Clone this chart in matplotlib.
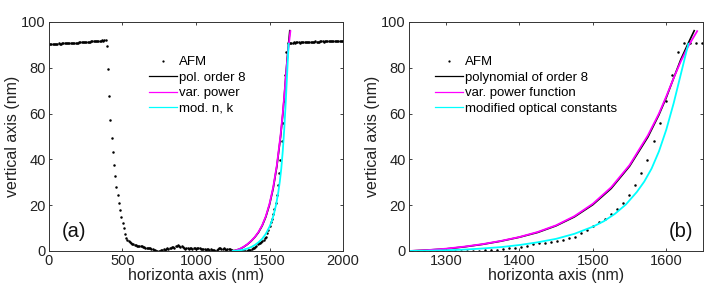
import numpy as np
import matplotlib
matplotlib.use("Agg")
import matplotlib.pyplot as plt

plt.rcParams['font.family'] = ['Liberation Sans', 'DejaVu Sans']
plt.rcParams['font.size'] = 10

# AFM profile, sampled every 8.2 nm from 0 nm
afm_step = 8.2
afm_h = [
    90.4, 90.3, 90.5, 90.4, 90.6, 90.5, 90.5, 90.6, 90.7, 90.6,
    90.6, 90.7, 90.7, 90.8, 90.7, 90.8, 90.8, 90.9, 90.8, 90.9,
    90.9, 91.0, 90.9, 91.0, 91.0, 91.1, 91.1, 91.1, 91.2, 91.2,
    91.3, 91.2, 91.3, 91.4, 91.4, 91.5, 91.5, 91.6, 91.6, 91.7,
    91.7, 91.8, 91.8, 91.9, 92.0, 91.9, 92.1, 92.2, 89.4, 79.4,
    67.8, 57.4, 49.4, 43.1, 37.5, 32.7, 28.0, 24.3, 20.8, 17.8,
    14.9, 12.4, 9.9, 7.5, 5.8, 5.0, 4.4, 3.9, 3.5, 3.2,
    2.9, 2.7, 2.5, 2.4, 2.3, 2.2, 2.1, 2.0, 1.8, 1.6,
    1.5, 1.4, 1.3, 1.2, 1.1, 1.0, 0.8, 0.6, 0.4, 0.2,
    0.0, -0.2, 0.0, 0.3, 0.6, 0.7, 0.5, 0.9, 1.2, 1.0,
    1.3, 1.1, 1.6, 1.9, 1.5, 2.0, 2.3, 2.5, 2.1, 1.8,
    2.2, 1.6, 1.3, 1.0, 1.5, 1.3, 0.9, 1.5, 1.2, 0.8,
    1.1, 1.3, 0.9, 1.2, 1.4, 1.1, 0.8, 1.0, 0.7, 0.9,
    0.6, 1.0, 0.8, 0.5, 0.7, 0.4, 0.3, 0.5, 0.2, 0.4,
    0.8, 1.2, 1.5, 1.0, 0.8, 1.2, 0.9, 0.6, 0.8, 0.7,
    0.9, 0.5, 0.3, 0.1, 0.0, -0.1, 0.0, 0.1, 0.0, 0.1,
    0.0, 0.1, 0.1, 0.2, 0.2, 0.3, 0.4, 0.6, 0.8, 1.1,
    1.5, 1.9, 2.4, 3.1, 3.3, 3.6, 3.9, 4.3, 4.8, 5.5,
    6.2, 7.7, 9.2, 10.9, 12.8, 14.1, 16.2, 18.2, 20.8, 24.5,
    29.0, 33.9, 39.7, 48.0, 56.0, 65.5, 76.9, 86.8, 90.7, 91.0,
    91.0, 91.0, 91.0, 91.1, 91.0, 91.1, 91.2, 91.1, 91.0, 91.1,
    91.2, 91.3, 91.2, 91.1, 91.2, 91.3, 91.4, 91.3, 91.2, 91.3,
    91.4, 91.5, 91.4, 91.3, 91.4, 91.5, 91.6, 91.5, 91.4, 91.5,
    91.6, 91.7, 91.6, 91.5, 91.6, 91.7, 91.8, 91.7, 91.6, 91.7,
    91.8, 91.7, 91.8, 91.7, 91.8,
]
afm_x = afm_step * np.arange(len(afm_h))

# fitted curves
poly_x = [1250, 1275, 1300, 1325, 1350, 1375, 1400, 1425, 1450, 1475,
          1500, 1525, 1550, 1575, 1590, 1600, 1610, 1620, 1630, 1638]
poly_y = [0.0, 0.4, 0.9, 1.8, 2.9, 4.3, 6.0, 8.1, 11.0, 14.9,
          20.2, 27.3, 37.0, 49.8, 59.5, 67.0, 75.5, 83.8, 90.8, 96.2]

pow_x = [1250, 1275, 1300, 1325, 1350, 1375, 1400, 1425, 1450, 1475,
         1500, 1525, 1550, 1575, 1590, 1600, 1610, 1620, 1630, 1642]
pow_y = [0.0, 0.4, 1.0, 1.9, 3.0, 4.4, 6.1, 8.3, 11.2, 15.2,
         20.6, 27.8, 37.5, 50.5, 60.0, 67.5, 75.5, 83.0, 89.5, 96.0]

nk_x = [1250, 1275, 1300, 1325, 1350, 1375, 1400, 1425, 1450, 1475,
        1500, 1515, 1530, 1545, 1560, 1570, 1580, 1590, 1600, 1610,
        1620, 1630]
nk_y = [0.0, 0.1, 0.3, 0.6, 1.1, 1.7, 2.6, 3.8, 5.3, 7.5,
        10.6, 13.0, 16.2, 20.3, 25.8, 30.3, 36.0, 43.5, 53.0, 64.5,
        77.5, 90.5]

labels_a = ['AFM', 'pol. order 8', 'var. power', 'mod. n, k']
labels_b = ['AFM', 'polynomial of order 8', 'var. power function',
            'modified optical constants']

fig = plt.figure(figsize=(7.09, 2.89), dpi=100)
ax_a = fig.add_axes([0.0691, 0.1315, 0.4147, 0.7924])
ax_b = fig.add_axes([0.5769, 0.1315, 0.4147, 0.7924])


def draw(ax, labels, xlim, xticks, leg_anchor, tag, tag_x, tag_ha):
    ax.plot(afm_x, afm_h, ls='none', marker='o', ms=1.8, mfc='black',
            mec='black', mew=0, label=labels[0])
    ax.plot(poly_x, poly_y, color='black', lw=1.2, label=labels[1])
    ax.plot(pow_x, pow_y, color='#ff00ff', lw=1.3, label=labels[2])
    ax.plot(nk_x, nk_y, color='#00ffff', lw=1.3, label=labels[3])
    ax.set_xlim(*xlim)
    ax.set_ylim(0, 100)
    ax.set_xticks(xticks)
    ax.set_yticks([0, 20, 40, 60, 80, 100])
    ax.tick_params(direction='in', top=True, right=True, length=2.5,
                   width=0.6, labelsize=10.5, pad=2.5, colors='#222222')
    for s in ax.spines.values():
        s.set_linewidth(0.7)
        s.set_color('#333333')
    ax.set_xlabel('horizonta axis (nm)', fontsize=11.5, labelpad=0, color='#222222')
    ax.set_ylabel('vertical axis (nm)', fontsize=11.5, labelpad=1, color='#222222')
    leg = ax.legend(loc='upper left', bbox_to_anchor=leg_anchor, frameon=False,
                    fontsize=9.5, handlelength=2.1, handletextpad=0.15,
                    labelspacing=0.25, borderaxespad=0, borderpad=0,
                    markerscale=0.9)
    for h in leg.legend_handles[1:]:
        h.set_linewidth(0.9)
    ax.text(tag_x, 0.085, tag, transform=ax.transAxes, fontsize=14.5,
            ha=tag_ha, va='center', color='#111111')


draw(ax_a, labels_a, (0, 2000), [0, 500, 1000, 1500, 2000],
     (0.34, 0.852), '(a)', 0.045, 'left')
draw(ax_b, labels_b, (1250, 1650), [1300, 1400, 1500, 1600],
     (0.088, 0.852), '(b)', 0.965, 'right')

fig.savefig('out.png', dpi=100)
